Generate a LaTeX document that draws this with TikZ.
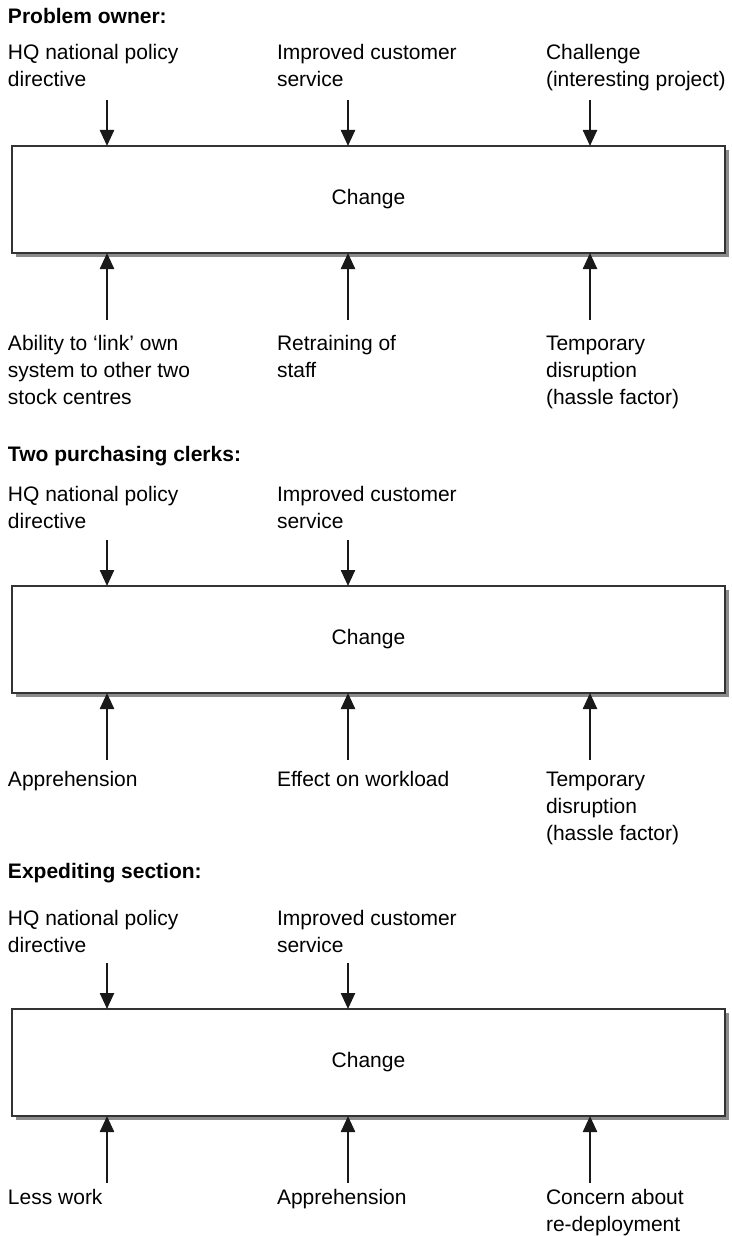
\documentclass[tikz,border=0pt]{standalone}
\usepackage{fontspec}
\setmainfont{Liberation Sans}
\usetikzlibrary{arrows.meta,shadows}

% multi-line label whose baseline is that of its first line
\newcommand\lbltext[1]{\parbox[t]{230pt}{\raggedright #1}}

\tikzset{
  lbl/.style={anchor=base west, inner sep=0pt, outer sep=0pt,
              font=\fontsize{21}{27}\selectfont},
  ttl/.style={anchor=base west, inner sep=0pt, outer sep=0pt,
              font=\bfseries\fontsize{21}{27}\selectfont},
  changebox/.style={draw=black!80, line width=1.4pt, fill=white,
              minimum width=713pt, minimum height=107pt,
              inner sep=0pt, outer sep=0pt,
              font=\fontsize{21}{27}\selectfont,
              drop shadow={shadow xshift=4pt, shadow yshift=-4pt,
                           fill=black!45, opacity=1}},
  flow/.style={line width=2.4pt, draw=black!90,
              -{Triangle[length=16pt,width=14pt]}},
}

\begin{document}
\begin{tikzpicture}[x=1pt,y=1pt]
\useasboundingbox[fill=white] (0,0) rectangle (731,-1236);

% ---------- Problem owner ----------
\node[ttl] (t1) at (8,-24) {Problem owner:};
\node[lbl] (u11) at (8,-60)   {\lbltext{HQ national policy\\directive}};
\node[lbl] (u12) at (277,-60) {\lbltext{Improved customer\\service}};
\node[lbl] (u13) at (546,-60) {\lbltext{Challenge\\(interesting project)}};
\node[changebox] (box1) at (368.5,-199.5) {Change};
\node[lbl] (d11) at (8,-350)   {\lbltext{Ability to `link' own\\system to other two\\stock centres}};
\node[lbl] (d12) at (277,-350) {\lbltext{Retraining of\\staff}};
\node[lbl] (d13) at (546,-350) {\lbltext{Temporary\\disruption\\(hassle factor)}};

\coordinate (p11) at (107,-100);
\coordinate (p12) at (348,-100);
\coordinate (p13) at (590,-100);
\coordinate (q11) at (107,-320);
\coordinate (q12) at (348,-320);
\coordinate (q13) at (590,-320);
\foreach \i in {11,12,13}{
  \draw[flow] (p\i) -- (p\i |- box1.north);
  \draw[flow] (q\i) -- (q\i |- box1.south);
}

% ---------- Two purchasing clerks ----------
\node[ttl] (t2) at (8,-461) {Two purchasing clerks:};
\node[lbl] (u21) at (8,-501)   {\lbltext{HQ national policy\\directive}};
\node[lbl] (u22) at (277,-501) {\lbltext{Improved customer\\service}};
\node[changebox] (box2) at (368.5,-639.5) {Change};
\node[lbl] (d21) at (8,-786)   {\lbltext{Apprehension}};
\node[lbl] (d22) at (277,-786) {\lbltext{Effect on workload}};
\node[lbl] (d23) at (546,-786) {\lbltext{Temporary\\disruption\\(hassle factor)}};

\coordinate (p21) at (107,-540);
\coordinate (p22) at (348,-540);
\coordinate (q21) at (107,-760);
\coordinate (q22) at (348,-760);
\coordinate (q23) at (590,-760);
\foreach \i in {21,22}{
  \draw[flow] (p\i) -- (p\i |- box2.north);
}
\foreach \i in {21,22,23}{
  \draw[flow] (q\i) -- (q\i |- box2.south);
}

% ---------- Expediting section ----------
\node[ttl] (t3) at (8,-878) {Expediting section:};
\node[lbl] (u31) at (8,-925)   {\lbltext{HQ national policy\\directive}};
\node[lbl] (u32) at (277,-925) {\lbltext{Improved customer\\service}};
\node[changebox] (box3) at (368.5,-1062.5) {Change};
\node[lbl] (d31) at (8,-1204)   {\lbltext{Less work}};
\node[lbl] (d32) at (277,-1204) {\lbltext{Apprehension}};
\node[lbl] (d33) at (546,-1204) {\lbltext{Concern about\\re-deployment}};

\coordinate (p31) at (107,-963);
\coordinate (p32) at (348,-963);
\coordinate (q31) at (107,-1183);
\coordinate (q32) at (348,-1183);
\coordinate (q33) at (590,-1183);
\foreach \i in {31,32}{
  \draw[flow] (p\i) -- (p\i |- box3.north);
}
\foreach \i in {31,32,33}{
  \draw[flow] (q\i) -- (q\i |- box3.south);
}
\end{tikzpicture}
\end{document}
